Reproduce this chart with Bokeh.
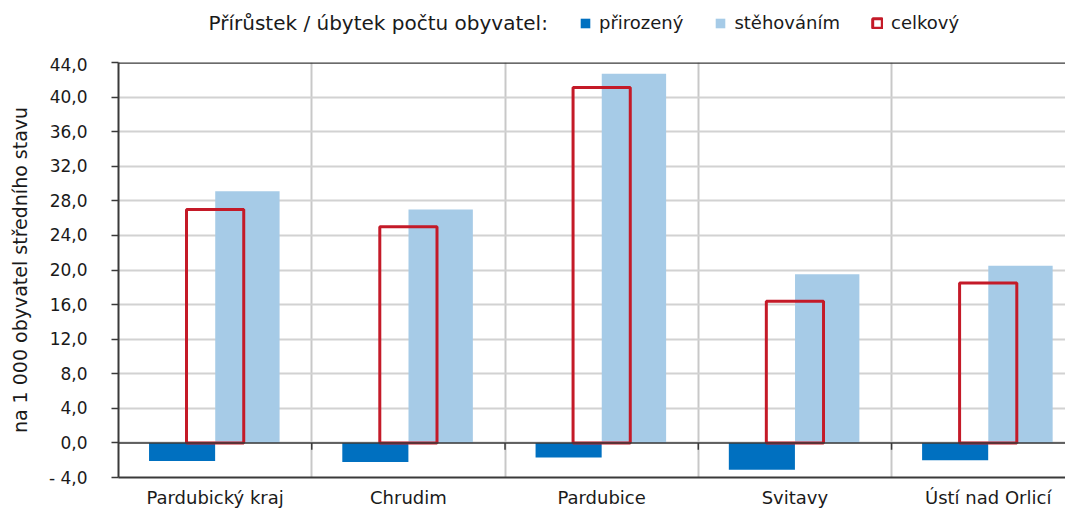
from bokeh.plotting import figure
from bokeh.models import (Range1d, FixedTicker, Span, Legend, LegendItem, Label)
from bokeh.layouts import column
from bokeh.embed import file_html
from bokeh.resources import INLINE

categories = ["Pardubický kraj", "Chrudim", "Pardubice", "Svitavy", "Ústí nad Orlicí"]
prirozeny = [-2.1, -2.2, -1.7, -3.1, -2.0]
stehovanim = [29.1, 27.0, 42.7, 19.5, 20.5]
celkovy = [27.0, 25.0, 41.1, 16.4, 18.5]
series_names = ["přirozený", "stěhováním", "celkový"]
legend_title = "Přírůstek / úbytek počtu  obyvatel:"
y_title = "na 1 000 obyvatel středního stavu"
y_ticks = [-4, 0, 4, 8, 12, 16, 20, 24, 28, 32, 36, 40, 44]
y_tick_labels = ["- 4,0", "0,0", "4,0", "8,0", "12,0", "16,0", "20,0", "24,0",
                 "28,0", "32,0", "36,0", "40,0", "44,0"]

FONT = "DejaVu Sans"
TXT = "#1a1a1a"
C_BLUE = "#0070c0"
C_LIGHT = "#a6cbe7"
C_RED = "#c41a28"
AX = "#3a3a3a"

W = 1065
LEFT = 118
TOP_H = 54
MAIN_H = 456

n = len(categories)
centers = [i + 0.5 for i in range(n)]

# ---------- heading strip with the legend (its frame is aligned with the chart frame) ----------
top = figure(width=W, height=TOP_H, output_backend="svg", toolbar_location=None,
             x_range=Range1d(LEFT, W), y_range=Range1d(0, TOP_H),
             x_axis_location=None, y_axis_location=None,
             min_border_left=LEFT, min_border_right=0, min_border_top=0, min_border_bottom=0)
top.outline_line_color = None
top.xgrid.visible = False
top.ygrid.visible = False

# legend-only renderers (hidden; the legend still draws their swatches)
d_blue = top.vbar(x=[500], top=[10], bottom=0, width=1, fill_color=C_BLUE, line_color=None,
                  visible=False)
d_light = top.vbar(x=[500], top=[10], bottom=0, width=1, fill_color=C_LIGHT, line_color=None,
                   visible=False)
d_red = top.vbar(x=[500], top=[10], bottom=0, width=1, fill_color=None,
                 line_color=C_RED, line_width=3, visible=False)

legend = Legend(items=[LegendItem(label=series_names[0], renderers=[d_blue]),
                       LegendItem(label=series_names[1], renderers=[d_light]),
                       LegendItem(label=series_names[2], renderers=[d_red])],
                orientation="horizontal", location=(579 - LEFT, 21),
                glyph_width=12, glyph_height=12, label_standoff=8, spacing=31,
                padding=0, margin=0, border_line_color=None, background_fill_alpha=0,
                label_text_font=FONT, label_text_font_size="18px", label_text_color=TXT)
top.add_layout(legend, "center")

top.add_layout(Label(x=208, y=TOP_H - 22, text=legend_title, text_font=FONT,
                     text_font_size="20px", text_color=TXT, text_baseline="middle"))

# ---------- main chart ----------
p = figure(width=W, height=MAIN_H, output_backend="svg", toolbar_location=None,
           x_range=Range1d(0, 4.90), y_range=Range1d(-4, 44),
           min_border_left=LEFT, min_border_right=0, min_border_top=8,
           min_border_bottom=31)
p.outline_line_color = None
p.background_fill_color = "white"

p.vbar(x=[c - 0.171 for c in centers], top=prirozeny, bottom=0, width=0.342,
       fill_color=C_BLUE, line_color=None)
p.vbar(x=[c + 0.167 for c in centers], top=stehovanim, bottom=0, width=0.333,
       fill_color=C_LIGHT, line_color=None)
p.vbar(x=centers, top=celkovy, bottom=0, width=0.296,
       fill_color=None, line_color=C_RED, line_width=3)

# zero line and small category ticks on it
p.add_layout(Span(location=0, dimension="width", line_color=AX, line_width=1.5))
p.segment(x0=list(range(1, n)), x1=list(range(1, n)), y0=[0] * (n - 1), y1=[-0.8] * (n - 1),
          line_color=AX, line_width=1.5)
# top border
p.add_layout(Span(location=44, dimension="width", line_color=AX, line_width=2.5))

# axes
p.yaxis.ticker = FixedTicker(ticks=y_ticks)
p.yaxis.major_label_overrides = {t: l for t, l in zip(y_ticks, y_tick_labels)}
p.yaxis.axis_label = y_title
p.yaxis.axis_label_text_font = FONT
p.yaxis.axis_label_text_font_style = "normal"
p.yaxis.axis_label_text_font_size = "19px"
p.yaxis.axis_label_text_color = TXT
p.yaxis.axis_label_standoff = 15
p.yaxis.major_label_text_font = FONT
p.yaxis.major_label_text_font_size = "17px"
p.yaxis.major_label_text_color = TXT
p.yaxis.major_label_standoff = 24
p.yaxis.major_tick_out = 7
p.yaxis.major_tick_in = 0
p.yaxis.minor_tick_out = 0
p.yaxis.minor_tick_in = 0
p.yaxis.axis_line_color = AX
p.yaxis.axis_line_width = 2
p.yaxis.major_tick_line_color = AX
p.yaxis.major_tick_line_width = 1.5

p.xaxis.ticker = FixedTicker(ticks=centers)
p.xaxis.major_label_overrides = {c: l for c, l in zip(centers, categories)}
p.xaxis.major_label_text_font = FONT
p.xaxis.major_label_text_font_size = "18px"
p.xaxis.major_label_text_color = TXT
p.xaxis.major_label_standoff = 9
p.xaxis.major_tick_out = 0
p.xaxis.major_tick_in = 0
p.xaxis.minor_tick_out = 0
p.xaxis.minor_tick_in = 0
p.xaxis.axis_line_color = AX
p.xaxis.axis_line_width = 2

# grids
p.xgrid.ticker = FixedTicker(ticks=list(range(1, n + 1)))
p.xgrid.grid_line_color = "#c8c8c8"
p.xgrid.grid_line_width = 2
p.ygrid.ticker = FixedTicker(ticks=y_ticks[1:-1])
p.ygrid.grid_line_color = "#d2d2d2"
p.ygrid.grid_line_width = 2

layout = column(top, p, spacing=0)
open("out.html", "w").write(file_html(layout, INLINE))
